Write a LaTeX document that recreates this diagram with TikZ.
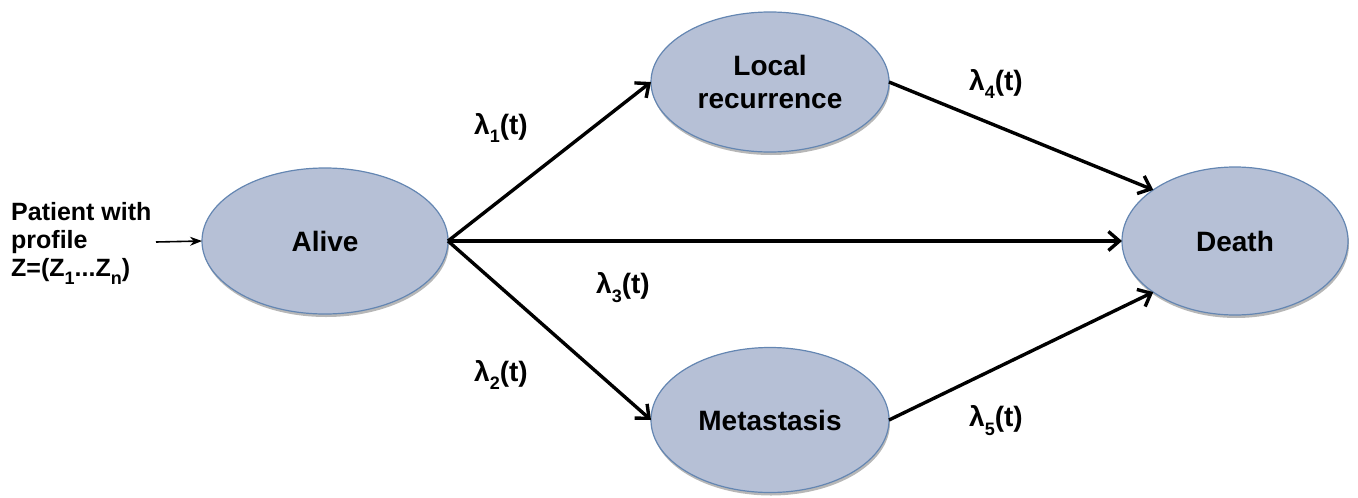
\documentclass[tikz,border=0pt]{standalone}
\usepackage{fontspec}
\setmainfont{Liberation Sans}
\usetikzlibrary{arrows.meta,shapes.geometric,shadows}
\definecolor{nodefill}{RGB}{182,192,214}
\definecolor{nodeedge}{RGB}{100,134,178}
\newcommand{\lowsub}[1]{\raisebox{-0.32em}{\fontsize{18}{18}\selectfont #1}}
\begin{document}
\begin{tikzpicture}[x=1pt,y=-1pt,
  state/.style={ellipse, draw=nodeedge, line width=1.2pt, fill=nodefill,
    inner sep=0pt, outer sep=0pt, align=center,
    font=\fontsize{28}{33}\selectfont\bfseries,
    drop shadow={shadow xshift=1pt, shadow yshift=-3pt, opacity=0.4, fill=black!70}},
  trans/.style={line width=3.4pt, -{Straight Barb[length=11pt,width=19pt]}},
  rate/.style={font=\fontsize{28}{30}\selectfont\bfseries, inner sep=0pt},
  feed/.style={line width=1.6pt, -{Stealth[length=12pt,width=9pt]}}
]
\useasboundingbox (0,0) rectangle (1358,498);

\node[state, minimum width=246pt, minimum height=146pt] (alive) at (325,241) {Alive};
\node[state, minimum width=238pt, minimum height=140pt] (local) at (770,82) {Local\\recurrence};
\node[state, minimum width=238pt, minimum height=145pt] (meta) at (770,420) {Metastasis};
\node[state, minimum width=226pt, minimum height=148pt] (death) at (1235,241) {Death};

\node[anchor=west, inner sep=0pt, align=left, font=\fontsize{25}{28}\selectfont\bfseries] (patient) at (11,243)
  {Patient with\\profile\\Z=(Z\lowsub{1}...Z\lowsub{n})};
\coordinate (pstart) at (156,242);
\draw[feed] (pstart) -- (alive.west);

\draw[trans] (alive.east) -- (local.west);
\draw[trans] (alive.east) -- (meta.west);
\draw[trans] (alive.east) -- (death.west);
\draw[trans] (local.east) -- (death.148);
\draw[trans] (meta.east) -- (death.212);

\node[rate] (l1) at (501,128) {λ\lowsub{1}(t)};
\node[rate] (l2) at (501,375) {λ\lowsub{2}(t)};
\node[rate] (l3) at (623,288) {λ\lowsub{3}(t)};
\node[rate] (l4) at (996,84) {λ\lowsub{4}(t)};
\node[rate] (l5) at (996,421) {λ\lowsub{5}(t)};
\end{tikzpicture}
\end{document}
